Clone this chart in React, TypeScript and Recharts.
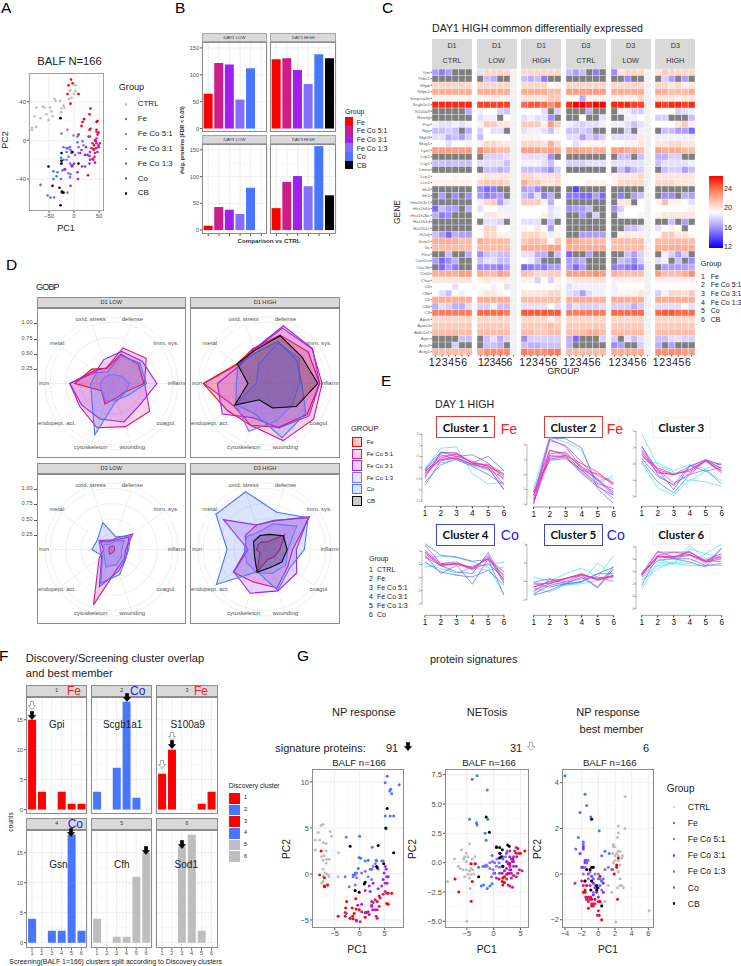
import {
  Bar, BarChart, CartesianGrid, Cell, Line, LineChart, PolarAngleAxis, PolarGrid, PolarRadiusAxis,
  Radar, RadarChart, ReferenceLine, Scatter, ScatterChart, XAxis, YAxis,
} from 'recharts';

const SANS = '"Liberation Sans", Arial, sans-serif';
const C_CTRL = '#bebebe';
const C_FE = '#ff0000';
const C_51 = '#cd1c8b';
const C_31 = '#a020f0';
const C_13 = '#836fff';
const C_CO = '#4876ff';
const C_CB = '#000000';

const groupNames = ['CTRL', 'Fe', 'Fe Co 5:1', 'Fe Co 3:1', 'Fe Co 1:3', 'Co', 'CB'];
const groupColors = [C_CTRL, C_FE, C_51, C_31, C_13, C_CO, C_CB];

// panel A
const aCtrl = [[-84, 10.7], [-84, 13], [-76, 14], [-79, 25], [-75, 34], [-63, 35], [-59, 34], [-55, 27], [-67, 23], [-51, 21], [-48, 34], [-45, 30], [-43, 25], [-39, 43], [-37, 41], [-28, 41], [-25, 33], [-21, 36], [-19, 34], [-26, 29], [-10, 43], [-5, 44], [-9, 51], [-7, 52], [3, 57], [3, 51], [9, 48], [0, 48]];
const aFe = [[-6, 63], [-3, 59], [-11, 57], [-13, 48], [9, 48], [-7, 38], [33, 33], [31, 27], [20, 22], [17, 19], [15, 15], [9, 6], [31, 11], [33, 12], [45, 11], [47, 20], [45, 19], [49, 8], [42, 0], [40, -5], [39, -9], [37, -19], [28, -36]];
const a51 = [[45, 9], [47, 6], [45, 2], [52, -3], [49, -7], [44, -8], [40, -10], [35, -8], [32, -12], [47, -12], [42, -13], [41, -17], [39, -20], [42, -23], [32, 4], [29, 4], [49, -5], [44, -1], [45, -3], [37, -3]];
const a31 = [[-19, -30], [-4, -27], [-3, -26], [16, -27], [7, -33], [8, -40], [-7, -47], [22, -15], [31, -16], [31, -24], [22, -27], [15, -10], [27, -15], [12, -13], [-5, -13], [0, -24], [-18, -30], [32, -20], [-5, -26], [24, -7]];
const a13 = [[-25, 7], [-13, 11], [-1, 5], [9, -7], [19, -5], [-21, -7], [-15, -8], [-8, -7], [-5, -12], [2, -15], [-11, -17], [-15, -20], [-8, -24], [-11, -34], [-7, -35], [-8, -38], [-13, -54], [-25, -54], [9, -13], [17, -1]];
const aCo = [[7, 4], [-67, -46], [-53, -57], [-47, -59], [-40, -59], [-41, -32], [-33, -33], [-41, -40], [-35, -37], [-26, -40], [-23, -31], [-25, -24], [-26, -18], [-15, -12], [-7, -10], [-12, -8], [7, -2], [-21, -20]];
const aCb = [[-27, 23], [-3, -12], [-25, -13], [-25, -21], [-25, -24], [9, -24], [-51, -27], [-43, -47], [-29, -49], [-24, -53], [-21, -54], [-27, -67]];

// panel B
const barGroups = ['Fe', 'Fe Co 5:1', 'Fe Co 3:1', 'Fe Co 1:3', 'Co', 'CB'];
const barColors = [C_FE, C_51, C_31, C_13, C_CO, C_CB];
const d1LowCounts = [65, 122, 119, 54, 112, 0];
const d1HighCounts = [129, 131, 109, 83, 138, 131];
const d3LowCounts = [8, 43, 38, 30, 79, 0];
const d3HighCounts = [41, 90, 101, 82, 157, 65];

// panel C
const n = 0; // NA cell, drawn grey
const genes = ['Vim', 'Thbs1', 'Sftpb', 'Sftpa1', 'Serpina3n', 'Scgb1a1', 'S100a9', 'Retnlg', 'Pzp', 'Ngp', 'Myh9', 'Mug1', 'Lyz2', 'Lsp1', 'Lsg1', 'Lmna', 'Lcp1', 'Lcn2', 'Itih4', 'Itih1', 'Hist2h3c1', 'Hist1h4a', 'Hist1h2bc', 'Hist1h1d', 'Hist1h1c', 'H2afj', 'Gsto1', 'Gc', 'Flna', 'Coro1a', 'Clec3b', 'Chil3', 'Chia', 'C6', 'C8b', 'C5', 'C4b', 'C3', 'Apoh', 'Apoa4', 'Aldh1a1', 'Ager', 'Actc3', 'Actg1'];
const heatD1Ctrl = [
  [16, 15, 16, n, n, n], [n, n, n, n, n, n], [20.5, 20.5, 20.5, 20.5, 20.5, 20.5], [22, 22, 22, 22, 22, 22],
  [19.5, 19.5, 19.5, 19.5, 19.5, 19.5], [25.5, 25.5, 25.5, 25.5, 25.5, 25.5], [n, n, n, n, n, 16.5], [n, n, n, n, n, n],
  [18.5, 18, 18, 18.5, 18, 18.5], [17, 17, 17.5, 17, n, 16.5], [18, 18, 16.5, 17, 16, 17.5], [19, 19, 18, 19, 19, 19.5],
  [22.5, 22.5, 22.5, 22.5, 22.5, 22.5], [n, n, n, n, n, n], [17, 17, 16.8, 17, 17, 17], [n, n, n, n, n, n],
  [19.2, 19.2, 19.2, 19.4, 19.2, 19.2], [19.5, 19.5, 19.5, 19.5, 19.5, 19.5], [n, n, n, n, n, n], [n, 16, n, 15.5, n, 15.5],
  [n, n, n, n, n, n], [14.5, 17, 16, 16, n, 16.5], [16.5, 15, 15.5, n, n, n], [n, n, n, n, n, n],
  [n, n, n, n, n, n], [17, 16, 14.5, 16.5, 16, 16], [22, 22, 22, 22, 21.5, 21.5], [21.5, 21.5, 21.5, 21.5, 21.5, 21.5],
  [n, n, 17, n, n, 16.5], [16, 14.5, 15.5, 16.5, n, n], [n, 14.5, 16, 15, n, n], [22, 22, 22, 22, 22.5, 22.5],
  [20, 20, 20, 20, 20, 20], [19, 19, 19, 18, 19, 19], [19, 18, 17, 19, 18.5, 19], [22, 22, 22, 22, 22, 22],
  [16.5, 18, 17.5, 16.5, 16.5, 18], [23.5, 23.5, 23.5, 23.5, 23.5, 23.5], [20.5, 20.5, 20.5, 20.5, 20.5, 20.5], [21, 21, 21, 21, 21, 21],
  [21.5, 21.5, 21.5, 21.5, 21.5, 21.5], [n, n, n, n, 17, 17], [n, n, n, 17.5, n, n], [21.5, 21.5, 21.5, 21.5, 21.5, 21.5],
];
const heatD1Low = [
  [18, 20.5, 20.5, 20.5, 20.5, null], [n, 17, 16.5, n, n, null], [20.5, 20.5, 20.5, 20.5, 20.5, null], [22, 22, 22, 22, 22, null],
  [19.5, 19.5, 20, 19.5, 19.5, null], [25, 25, 25, 25, 25, null], [18.5, 19, 19, 17.5, 17, null], [18, 18.5, 18.5, n, 19, null],
  [19.5, 21, 21, 20, 20, null], [17.5, 19, 18, 18, n, null], [17, 19, 19, 19, 19, null], [19.5, 20.5, 20.5, 20, 20, null],
  [23, 22, 22, 21.5, 21.5, null], [n, 17.5, 17.5, 17.5, 18, null], [18, 18, 18, 18, 17, null], [n, 17, 17, 16.5, 17, null],
  [19.5, 20, 20, 20, 20, null], [20.5, 21, 21, 21, 20.5, null], [15.5, 14.5, 15, n, n, null], [16, 15, 15.5, 16, n, null],
  [18.5, 20.5, 21, 16, 18, null], [18, 19, 19, 18.5, 18.5, null], [19, 20, 20, 19.5, 19.5, null], [n, 18, 18, 17.5, n, null],
  [19, 20.5, 20.5, 19, 19, null], [19, 20.5, 20.5, 19.5, 19.5, null], [22, 21.5, 21.5, 21.5, 21.5, null], [21.5, 21.5, 21.5, 21.5, 21.5, null],
  [15.5, 17, 17.5, 17, 17, null], [17, 18, 18, 17, 17, null], [15.5, 15.5, 15.5, 15, 16, null], [22, 21.5, 21.5, 22.5, 22, null],
  [19.5, 20, 19.5, 19.5, 19.5, null], [19, 19, 18.5, 19, 18, null], [19.5, 20, 20, 19.5, 19, null], [22, 22, 22, 22, 22, null],
  [17.5, 17.5, 18.5, 17, 17, null], [24, 24, 24, 24, 23.5, null], [20.5, 20.5, 20.5, 20.5, 20.5, null], [21, 21, 21, 21, 21, null],
  [21.5, 21.5, 21.5, 21.5, 21.5, null], [n, 17, 18, 16.5, 17.5, null], [n, 17, 17, 16.5, n, null], [22, 23, 23, 23, 23, null],
];
const heatD1High = [
  [20.5, 20.5, 20.5, 20.5, 20.5, 20.5], [17, 16.5, 17, 15, n, n], [20.5, 20.5, 20.5, 20.5, 19, 19.5], [22, 22, 22, 22, 21.5, 21.5],
  [20, 20, 20, 20, 21, 21], [24, 24.5, 24.5, 24, 23, 24], [19, 19, 19, 18, n, 17.5], [18, 18.5, 18, 18, 15.5, n],
  [21, 21, 21, 19.5, 22.5, 21], [18, 18.5, 18.5, 18, 17, 19.5], [19.5, 19.5, 19.5, 19, 19, 19], [20.5, 20.5, 20.5, 20, 22, 20.5],
  [22.5, 22.5, 22.5, 22, 22.5, 22], [18, 18, 18, 18, 15.5, n], [18.5, 18.5, 18.5, 18, 17, 19], [17, 17, 17, 16.5, 15.5, 17.5],
  [20.5, 20.5, 20, 20, 20, 20.5], [22, 21, 21, 20, 20, 20.5], [16, 16.5, 15.5, n, n, n], [17, 16, 18, 15, 16.5, n],
  [21, 21, 21, 19.5, 16.5, 19], [19, 19, 19, 19, 18, 18.5], [19, 19, 19, 19.5, 18, 18.5], [18, 18, 18, n, 17, n],
  [19.5, 19, 20, 19, 16, 19], [20.5, 20.5, 20.5, 20, 18.5, 19.5], [21, 21.5, 21.5, 21, 19, 21], [22, 22, 22, 22, 22.5, 22.5],
  [18, 18, 16.5, 16.5, n, 17], [19, 18.5, 17, n, n, n], [14.5, 15, 15.5, 15, 16, 16], [21.5, 21, 20.5, 20.5, 21, 21],
  [19.5, 19.5, 17.5, 19, 17.5, 19.5], [19, 19, 19, 19, 19, 19.5], [20, 20, 20, 20, 20.5, 20.5], [21.5, 21.5, 21.5, 21.5, 21.5, 21.5],
  [18, 18, 18, 18, 19, 18], [24.5, 24.5, 24.5, 24.5, 24.5, 24.5], [20.5, 20.5, 20.5, 20.5, 19.5, 20.5], [21, 21, 21, 21, 21.5, 21],
  [21.5, 21.5, 21, 21, 21.5, 21.5], [15.5, 17.5, 17.5, 17.5, 17.5, 17.5], [17, 16.5, 16.5, 17, 17, 17], [23.5, 23, 23, 23, 23.5, 23.5],
];
const heatD3Ctrl = [
  [17, 16, 17, n, 15, n], [n, n, n, n, n, n], [20.5, 20.5, 20.5, 20.5, 20.5, 20.5], [22.5, 22.5, 22.5, 22.5, 22.5, 22.5],
  [19, 19, 16.5, 19.5, 19.5, 19.5], [25.5, 26, 26, 25.5, 26, 26], [n, n, n, 16.5, n, n], [n, n, 19, n, n, 18],
  [18.5, 18, 17.5, 18, 18, 18.5], [17, 17, 17.5, 17, n, n], [18, 18, 16, 17.5, 16.5, 17.5], [19, 18, 19.5, 19.5, 19.5, 19.5],
  [22.5, 22.5, 22, 22, 22, 22], [n, n, n, n, n, n], [17.5, 17.5, 17.5, 18, 18, 18], [n, n, n, n, n, n],
  [19, 19, 19, 19, 19, 19], [19, 19, 19, 19.5, 19.5, 19.5], [n, 13.5, n, n, n, n], [15, 15, 14.5, 14.5, 16, 14.5],
  [n, n, n, n, n, n], [15.5, 16, 16, 17, n, n], [n, n, 16, n, 17.5, n], [n, n, n, n, n, n],
  [n, n, n, n, n, n], [n, n, 16, 16, 16, 16], [22.5, 22, 21.5, 21.5, 21.5, 21.5], [22, 22, 22, 22, 22, 22],
  [14.5, n, n, 16, n, n], [16, 16, 16.5, n, n, n], [16, 14.5, 16, n, n, n], [22.5, 22.5, 22.5, 22.5, 23, 22.5],
  [19.5, 20, 20, 20, 20, 20], [18, 18.5, 18.5, 18.5, 18.5, 18.5], [18, 17.5, 16, 18, 18.5, 18.5], [22, 22, 22, 22, 22, 22],
  [17, 18, 17.5, 17.5, 17.5, 18], [23.5, 23.5, 23.5, 23.5, 23.5, 23.5], [20.5, 20.5, 20.5, 20.5, 20.5, 20.5], [21, 21, 21, 21, 21, 21],
  [21.5, 21.5, 21.5, 22, 22, 21.5], [16.5, 14.5, n, n, n, 17.5], [16.5, n, n, n, n, n], [21.5, 21.5, 21.5, 21.5, 21.5, 21.5],
];
const heatD3Low = [
  [15.5, 20, 20.5, 20.5, 20.5, null], [n, n, 15.5, n, n, null], [20.5, 20.5, 20.5, 20.5, 20.5, null], [22, 22, 22, 22, 22, null],
  [19.5, 19.5, 19.5, 19.5, 20.5, null], [25.5, 25.5, 25.5, 25, 25, null], [n, 18.5, 18.5, 17.5, 17.5, null], [n, n, 18.5, 18.5, 19, null],
  [18.5, 18.5, 18, 17, 18, null], [n, n, 17.5, n, 18.5, null], [18, 18, 18, 18, 20, null], [19, 19, 19.5, 19.5, 20, null],
  [22.5, 22.5, 22, 22, 21.5, null], [n, 17, 17, n, 17, null], [18, 18, 18, 18, 18, null], [n, 17, 15.5, 17, 17.5, null],
  [19.5, 20, 20, 20, 20.5, null], [19.5, 20.5, 20.5, 20.5, 20.5, null], [n, n, n, n, n, null], [n, 15, n, 16, 17, null],
  [n, 20, 20, n, 19, null], [15.5, 17.5, 19, 19, 19, null], [n, 18.5, 19, 19, 19.5, null], [n, n, n, n, n, null],
  [n, n, 17, 17, 18, null], [n, 19.5, 20, 19.5, 19.5, null], [21.5, 21.5, 21.5, 21.5, 21.5, null], [21.5, 21.5, 21.5, 21.5, 21.5, null],
  [n, n, 17, 16, 17.5, null], [n, 17, 16.5, 15.5, 17.5, null], [15, 15.5, 15, 14.5, 15.5, null], [22, 21.5, 21.5, 21.5, 21.5, null],
  [19.5, 19.5, 19.5, 19.5, 19.5, null], [18.5, 19, 19, 19, 19, null], [18.5, 19.5, 19.5, 19.5, 20, null], [22, 22, 22, 22, 22, null],
  [17.5, 17.5, 17.5, 16.5, 17.5, null], [24, 24, 24, 24, 24, null], [20.5, 20.5, 20.5, 20.5, 20.5, null], [21, 21, 21, 21, 21, null],
  [21.5, 21.5, 21.5, 21.5, 21.5, null], [17.5, n, 18, 17, 18, null], [15.5, 16, n, n, 17.5, null], [22, 22, 22, 22, 22, null],
];
const heatD3High = [
  [20, 21, 20.5, 20.5, 20.5, 20.5], [n, 17.5, 16, n, 16, n], [20.5, 20.5, 20, 20.5, 19.5, 20], [22, 22, 21.5, 21.5, 21.5, 22],
  [20, 20, 20, 19.5, 20, 20], [25.5, 25, 25.5, 25.5, 25, 25.5], [19, 19, 19, 17.5, 18, 18.5], [17.5, 17.5, n, n, n, 17],
  [19, 19, 19, 20, 21, 19.5], [n, 17, 17, 16, 16, 14.5], [18.5, 18.5, 18.5, 18.5, 18.5, 18.5], [20, 20, 20.5, 20.5, 20, 20],
  [22.5, 22, 22, 22, 21.5, 21.5], [16.5, 16.5, 17.5, 17.5, n, n], [17, 18, 18, 18, 18, 18.5], [n, 17, 17.5, 17.5, 16, 17],
  [20, 20, 20, 20, 20, 20], [20.5, 20.5, 20.5, 20, 20, 20], [n, n, n, n, n, n], [n, 15.5, 15.5, n, 16.5, 16],
  [19.5, 21.5, 19.5, 19.5, 19, 18], [19, 19, 19, 19, 19, 19.5], [19.5, 20, 20, 20, 20, 20], [n, n, 17, n, 16, n],
  [18, 19, 19.5, 19, n, 19], [19, 21, 21, 20, 20, 19], [21.5, 21.5, 21.5, 21.5, 21.5, 21.5], [22, 22, 22, 22, 22, 22],
  [n, 18.5, 17.5, 16, 17.5, n], [18, 18.5, n, 17, n, 15.5], [n, 16, 16, 16, 16, 16.5], [22.5, 21.5, 21.5, 21.5, 22, 23],
  [19.5, 19.5, 19.5, 19.5, 19.5, 19.5], [19, 19, 19, 19, 19, 19], [17.5, 19.5, 20.5, 20.5, 20, 21], [22, 22, 22, 22, 22, 22],
  [18, 18, 18, 18, 19, 18], [24, 24.5, 24.5, 24, 24, 24], [20.5, 20.5, 20.5, 20.5, 20.5, 20.5], [21, 21, 21, 21, 21, 21],
  [21.5, 21.5, 21.5, 21.5, 21.5, 21.5], [17, 17, 18, 18, 17.5, 17.5], [16.5, n, 16, n, n, n], [23, 23, 23, 23, 22.5, 22.5],
];

// panel D
const terms = ['defense', 'imm. sys.', 'inflamm.', 'coagul.', 'wounding', 'cytoskeleton', 'endopept. act.', 'iron', 'metal', 'oxid. stress'];
const d1LowFe = [0.5, 0.54, 0.53, 0.25, 0.25, 0.35, 0.2, 0.6, 0.4, 0.26];
const d1Low51 = [0.61, 0.7, 0.54, 0.77, 0.74, 0.76, 0.64, 0.68, 0.35, 0.27];
const d1Low31 = [0.55, 0.62, 0.74, 0.58, 0.66, 0.61, 0.6, 0.68, 0.32, 0.41];
const d1Low13 = [0.15, 0.2, 0.3, 0.27, 0.3, 0.3, 0.2, 0.19, 0.15, 0.15];
const d1LowCo = [0.48, 0.57, 0.57, 0.33, 0.28, 0.88, 0.4, 0.34, 0.3, 0.2];
const d1HighFe = [0.83, 0.88, 0.9, 0.86, 0.75, 0.72, 0.75, 1, 0.55, 0.6];
const d1High51 = [0.95, 0.96, 0.94, 0.99, 0.98, 0.72, 0.62, 0.99, 0.53, 0.57];
const d1High31 = [0.99, 0.97, 0.9, 0.9, 0.76, 0.59, 0.85, 0.77, 0.5, 0.58];
const d1High13 = [0.7, 0.7, 0.57, 0.57, 0.64, 0.82, 0.58, 0.14, 0.15, 0.32];
const d1HighCo = [0.72, 0.65, 0.61, 0.83, 0.93, 0.52, 0.58, 0.46, 0.53, 0.52];
const d1HighCb = [0.82, 0.75, 0.87, 0.64, 0.42, 0.28, 0.6, 0.27, 0.55, 0.56];
const d3LowFe = [0.06, 0.06, 0.05, 0.05, 0.05, 0.08, 0.05, 0.04, 0.05, 0.05];
const d3Low51 = [0.19, 0.43, 0.23, 0.26, 0.32, 0.95, 0.25, 0.13, 0.22, 0.13];
const d3Low31 = [0.16, 0.35, 0.26, 0.28, 0.37, 0.64, 0.2, 0.18, 0.25, 0.16];
const d3Low13 = [0.14, 0.25, 0.17, 0.2, 0.26, 0.3, 0.15, 0.13, 0.15, 0.09];
const d3LowCo = [0.22, 0.38, 0.28, 0.28, 0.43, 0.58, 0.18, 0.32, 0.28, 0.46];
const d3HighFe = [0.13, 0.41, 0.25, 0.2, 0.17, 0.38, 0.09, 0.13, 0.13, 0.13];
const d3High51 = [0.49, 0.91, 0.46, 0.47, 0.66, 0.56, 0.63, 0.3, 0.39, 0.42];
const d3High31 = [0.5, 0.88, 0.52, 0.65, 0.71, 0.75, 0.62, 0.27, 0.83, 0.42];
const d3High13 = [0.44, 0.65, 0.38, 0.43, 0.41, 0.4, 0.36, 0.33, 0.36, 0.3];
const d3HighCo = [0.64, 0.88, 0.65, 0.51, 0.7, 0.38, 0.97, 0.61, 0.98, 0.99];
const d3HighCb = [0.26, 0.38, 0.37, 0.35, 0.31, 0.39, 0.2, 0.17, 0.22, 0.24];

// panel E
const clusterX = [1, 2, 3, 4, 5, 6];
const cluster1Lines = [
  [-0.09, 0.88, 0.93, -0.27, -0.73, -0.64], [-0.04, 0.7, 0.66, 0.21, 0.51, -0.13], [-0.79, 0.31, 0.46, 0.13, 0, -0.99],
  [-0.46, 0.66, 0.66, 0.21, 0.1, -0.76], [-0.31, 0.43, 0.61, 0.21, 0.1, -0.39], [-0.24, 0.36, 0.51, 0.28, 0.06, -0.31],
  [-0.64, 0.13, 0.4, 0.13, 0, -0.96], [-0.13, 0.21, 0.36, 0.06, -0.09, -0.13], [-0.39, 0.7, 0.51, 0.58, 0.21, -0.54],
  [-0.19, 0.51, 0.61, 0.21, -0.09, -0.46], [-0.13, 0.36, 0.43, 0.16, 0.16, -0.28], [-0.09, 0.58, 0.36, 0.06, -0.31, -0.76],
];
const cluster2Lines = [
  [-1.39, 2.47, 2.43, 1.8, -0.94, -1.96], [-0.94, 2.54, 2.2, 1.64, -0.61, -0.04], [-1.96, 2.31, 1.98, 0.85, -0.38, -1.39],
  [-1.62, 2.43, 1.87, 0.52, -0.38, -1.17], [-1.17, 1.64, 1.42, 0.52, -0.04, -0.61], [-1.39, 1.19, 1.3, 0.29, -0.61, -0.94],
  [-1.17, 0.97, 1.08, 0.29, 0.07, -0.54], [-1.84, 1.08, 1.19, 0.18, -0.72, -1.62], [-1.39, 1.3, 1.19, 0.07, -0.83, -1.39],
  [-1.96, 1.64, 1.3, 0.74, 0.18, -0.72], [-0.83, 0.97, 1.3, 0.29, -0.38, -0.27], [-1.73, 1.42, 1.53, 0.4, -0.27, -1.28],
];
const cluster3Lines = [
  [1.84, -0.08, -0.49, -1.1, -0.41, -1.02], [0.06, -1.47, -1.92, -0.96, -1.1, -1.37], [0.16, -1.1, -1.78, -0.65, -0.35, -1.22],
  [1.08, -0.35, -1.57, -0.14, 0.27, -0.08], [1.08, -0.65, -1.31, -0.55, 0.27, -0.29], [0.88, -0.35, -0.65, -0.14, 0.2, -0.04],
  [0.67, -0.35, -1.16, -0.65, 0.2, -0.45], [0.78, -0.55, -0.65, -0.35, 0.2, -0.29], [0.57, -0.49, -0.65, -0.35, 0.2, -0.55],
  [0.47, -0.24, -0.61, -0.45, 0.16, -0.41], [0.16, 0.06, -0.41, -0.04, -0.29, 0.06], [0.33, -0.76, -1.27, -0.08, -0.45, -0.2],
];
const cluster4Lines = [
  [0.81, 0.94, 0.18, 0.94, 0.94, 1.2], [2.6, 1.7, 1.58, 1.25, 1.4, -1.35], [1.7, 0.31, 0.94, -0.51, 1.45, -0.2],
  [1.96, 0.94, 0.43, 0.31, 1.91, -0.33], [2.47, 1.07, 1.2, 0.56, 1.7, -0.46], [2.09, 1.07, 0.99, 0.69, 1.58, 0.05],
  [1.83, 0.89, 1.07, 0.81, 1.4, 0.18], [1.96, 0.99, 1.07, 0.74, 1.45, 0.43], [1.58, 0.94, 1.07, 0.69, 1.07, -0.08],
  [1.07, 0.69, 0.38, 0.74, 0.56, 0.81], [1.2, 0.43, 0.18, 0.05, 0.56, -0.59], [1.45, 1.65, 1.53, 1.2, 0.81, -1.3],
];
const cluster5Lines = [
  [0.24, 0, 0.42, 0.73, 0.24, 1.42], [-0.76, -0.49, -0.13, 0.24, -0.36, 0.69], [-0.58, 0.11, 0, 0.33, -0.31, 0.84],
  [-0.31, -0.04, 0.15, 0.42, 0.05, 0.33], [-0.49, -0.13, 0.15, 0.33, 0.11, 0.24], [-0.09, -0.13, 0.15, 0.42, 0.11, 0.29],
  [-0.31, 0, 0.18, 0.36, 0.15, 0.33], [-0.76, -0.04, -0.22, -0.04, 1.02, 0.24], [-0.13, -0.31, -0.13, 0, 0.42, 0.78],
  [-0.67, -0.22, -0.04, 0.15, 0.24, 0], [-0.04, 0.15, -0.13, -0.04, 0.42, 0.42], [-0.36, -0.58, -0.18, -0.13, 0.05, 0.6],
];
const cluster6Lines = [
  [-2.43, -0.22, -0.35, 0.86, 0.46, 1.27], [-1.57, -0.49, -0.35, -0.49, -0.49, -0.49], [-2.11, 0.27, 0.05, -0.22, -0.62, 0.92],
  [-1.16, 0.65, 0.19, 0.65, -0.35, 0.92], [-1.3, 0.59, 0.59, 0.38, -0.08, 0.27], [-1.16, 0.27, 0.19, 0.59, -0.08, 0.46],
  [-1.24, 0.24, 0.24, 0.38, -0.16, 0.19], [-1.3, 0.19, 0.14, 0.32, -0.22, 0.05], [-1.3, 0.32, 0.59, 0.59, -0.14, -0.16],
  [-1.7, -0.76, -0.22, -0.35, 0.46, 0.05], [-1.43, -0.08, 0.05, 0.05, -0.49, -0.35], [-1.03, 0.05, -0.35, 1.14, 0.05, 0.46],
];

// panel F
const screeningClusters = ['1', '2', '3', '4', '5', '6'];
const overlap1 = [15, 3, 0, 3, 1, 1];
const overlap2 = [3, 0, 7, 18, 2, 0];
const overlap3 = [6, 10, 0, 0, 1, 3];
const overlap4 = [4, 0, 2, 2, 18, 2];
const overlap5 = [4, 0, 1, 1, 11, 15];
const overlap6 = [0, 0, 16, 18, 2, 0];
const discoveryColors = [C_FE, C_CO, C_FE, C_CO, C_CTRL, C_CTRL];

// panel G
const g1Ctrl = [[-7.3, 5.4], [-7.7, 5.3], [-8.3, 4.5], [-8.9, 3.7], [-8, 3.7], [-7.3, 3.4], [-6.7, 3.3], [-8.9, 2.6], [-5.9, 4.6], [-5.6, 4.1], [-4.2, 2.3], [-6.7, 2.5], [-7.6, 1.9], [-7.1, 2], [-6.6, 1.6], [-6.1, 1.6], [-7.3, 1.5], [-6.7, 1.2], [-7.3, 0.5], [-6.6, 0], [-6.3, -0.1], [-7.3, -0.2], [-6.9, -0.4], [-6.1, -0.3], [-4.3, -0.3], [-7.6, -1], [-6.6, -1.2], [-7.3, -0.8], [-6.9, 0.1]];
const g1Fe = [[-7.7, 2.5], [-8, -0.1], [-7.1, -0.4], [-7.1, -1.3], [-7, -1.4], [-6.4, -1.2], [-4.3, -4.6], [-2.6, -3], [-2.8, -3.7], [-1.5, -3.7], [-0.7, -3.8], [-0.1, -3.9], [-0.8, -2.7], [-2.9, -4.6], [-1.9, -4.8], [-1.4, -4.6], [-1.1, -4.3], [-1.3, -4.9], [1.1, -4.2], [1.1, -4.7], [3.9, -2.4], [3.5, -3], [5.7, -2.1], [6.4, -2.1], [5.4, -3.2], [5.7, -3.3]];
const g151 = [[-2.9, -4.2], [-2.7, -4.3], [-1.9, -4.8], [0.1, -5.2], [0.4, -4.1], [1.5, -4.2], [1.9, -4.4], [2.4, -3.5], [2.7, -3.1], [3.1, -3.9], [3.5, -3.9], [3.9, -3.5], [3.3, -4.6], [3.5, -4.8], [2.4, -3], [3.1, -2.8], [4.1, -2.6], [5.1, -1.9], [5.4, -2.1], [4.7, -2.2]];
const g131 = [[5.1, 0.8], [5.3, 0.5], [4.9, 0.1], [5.4, -0.3], [5.7, -0.3], [4.7, -0.6], [5.1, -1], [5.5, -1], [4.4, -1.3], [3.7, -1.6], [2.7, -1], [1.9, -1.3], [1.1, -1.8], [2.1, -1.9], [0.4, -3.3], [-0.4, -3.4], [-0.6, -5.1], [-0.7, -5], [2.4, -3.4], [2.6, -3.9], [1.7, -4.1], [1.3, -4.2]];
const g113 = [[-2.7, 4], [-2.9, -0.3], [-1.3, -0.3], [-0.9, -0.1], [-0.6, 0.1], [-0.6, -0.4], [-0.9, -1.2], [-2.1, -1.4], [0.4, 0.1], [2.1, 0.5], [2.7, 0.8], [3.1, 1.1], [3.4, 1.4], [4.4, 1.4], [1.1, 0.3], [1.7, -0.3], [2.4, -0.6], [3.7, 0.5]];
const g1Co = [[5.5, 10.6], [5.1, 9.9], [7.9, 9.7], [6.2, 9.2], [6, 9], [6.4, 8.7], [5.1, 6.3], [6.8, 6.3], [6.1, 6.3], [5.3, 4.9], [0, 4.1], [2.5, 2.9], [-0.1, 1.8], [0.2, 1.7], [1.1, 1.4], [1.7, 1.5], [4.7, 1.4], [3.3, 1.5], [-0.3, 0.6], [2.4, 0.5], [-0.9, 0.1], [-1.3, -0.1]];
const g1Cb = [[5.5, 7.1], [5.2, 5], [-1.9, 3], [3.7, 3.1], [6.8, 2.3], [4.8, 1.1], [3.4, 0.8], [3.5, 0.7], [1.1, -0.9], [0.9, -1.1], [-0.9, -1.8], [-0.1, -2]];

const g2Ctrl = [[-5, -5], [-8.6, -1.6], [-7.3, 0.3], [-6, 1.1], [-5.1, 0.8], [-4.5, 1.6], [-5.4, 0.5], [-4.8, 0.5], [-3.5, 0.5], [-5.6, 0.3], [-5.1, 0.1], [-4.3, -0.1], [-6.6, -0.3], [-6.2, -0.5], [-5.7, -0.6], [-5.1, -0.6], [-4.5, -0.7], [-3.9, -0.6], [-4.8, -1], [-4.2, -1], [-3.7, -1], [-5.4, -1.2], [-4.5, -1.3], [-4.4, -2.2], [-4, 0.3], [-3.6, -0.1], [-4.2, -0.5]];
const g2Fe = [[-4.2, -0.1], [-3.4, -0.1], [-7.2, -1.4], [-4, -1.6], [-6.5, -2.5], [-4.2, -3.3], [1, -1.4], [1.7, -1.3], [1.6, -1.6], [2, -1.2], [2.4, -1], [2, -1.7], [1.7, -1.9], [2.7, -0.9], [3.2, -0.6], [3, -0.1], [3.6, 0.3], [4.5, 1.2], [5, 0.8], [5.8, 1], [4.2, 0.8], [2.7, -0.1]];
const g251 = [[3, 1], [4.2, 1.3], [3.9, 1], [4.7, 0.8], [4.3, 0.5], [3.7, 0.1], [4.2, -0.3], [4.8, -0.6], [5.3, -0.7], [4.5, -0.9], [3.7, -1.1], [3.3, -1.3], [2.4, -1.4], [3, -2], [2.7, -1.9], [3.5, -2.1], [4.2, -1.2], [3, -0.9]];
const g231 = [[1.1, 0.8], [2.4, 0.8], [3, 0.5], [3.3, 0.3], [2.7, 0], [3.5, 0.1], [1.7, -0.3], [2.4, -0.5], [3, -0.3], [3.7, -0.3], [3, -0.6], [2, -0.7], [1.6, -0.9], [0.2, -0.9], [0.5, -1.3], [1.1, -0.9], [3.3, -0.9], [2.4, 0.1], [3.7, 0.5]];
const g213 = [[2.5, 1], [2.2, 0.5], [1.7, 0.5], [0.6, 0.3], [0.2, 0], [-0.2, 0.1], [-0.7, 0], [-1.2, -0.3], [-1.7, -0.3], [-0.7, -0.5], [-0.1, -0.6], [-0.4, -1.2], [0.5, -0.3], [1.1, -0.4], [1, 0], [-1.4, -0.2], [-2, -0.3], [0, -0.9]];
const g2Co = [[-4, 7.1], [-3.1, 7.4], [-1.2, 6.2], [-4.5, 3.7], [-3.2, 3.4], [-3.1, 3.2], [-1.1, 3.7], [-1.6, 2.5], [-1.4, 1.9], [-0.3, 0.6], [-2.8, -0.4], [-2.3, -2], [-1.9, -1.9], [-1.2, -2.2], [-0.7, -2], [-0.3, -1.8], [-1.7, -0.3], [0.5, 1.4], [1.7, 0.3]];
const g2Cb = [[-1.4, 3.9], [-0.8, 2.6], [0.5, 1.3], [1.1, 1.3], [1.6, 1.1], [1.2, 0.8], [1.4, 0.5], [1.1, 0.4], [1.7, -0.3], [2.6, 1.5], [2.9, 1.4], [-2.8, -1.2]];

const g3Ctrl = [[3.2, 3.4], [2.4, 2.1], [3.2, 2], [2.4, 1.8], [2.3, 1.6], [1.8, 1.3], [1.8, 1.2], [2, 1.2], [1.7, 0.9], [2.4, 1], [2.6, 1], [2.9, 0.8], [2.8, 0.7], [2.2, 0.9], [2, 0.6], [2.4, 0.6], [1.8, 0.5], [2.6, 0.4], [2.4, 0.1], [2.6, -0.2], [2.8, -0.5], [3, -0.6], [2.6, -0.5], [2.3, -0.6], [1.2, -0.5], [1.6, -0.8], [6.1, -1.6], [2.1, -2.1], [0.8, -1.2], [0.4, -1.3], [2.4, 0.8], [2, 0.8]];
const g3Fe = [[2.4, 0.7], [2.2, 0.4], [1.7, 0.2], [2.2, 0.3], [1.9, 0], [0.2, -0.1], [2.3, -1.1], [-1.8, -0.8], [-1.6, -0.7], [-1.6, -0.8], [-1.2, -1], [-1, -1.1], [-0.8, -1.1], [-0.4, -1.1], [0, -1.2], [0.2, -1.2], [-0.8, -1.4], [-1.2, -1.5], [0.4, -2], [0.1, -1.8], [-1.4, -0.5]];
const g351 = [[-2.8, -0.4], [-2, -0.3], [-1.6, -0.3], [-1.5, -1], [-1.4, -1.1], [-1.2, -1.2], [-0.8, -1.3], [-0.6, -1.4], [0, -1.6], [-0.1, -1.8], [-0.6, -1.3], [-1.8, -0.5], [-1.4, -1.1], [-0.9, -1], [-0.4, -1.3]];
const g331 = [[-2.2, 0.9], [-1.8, 1.2], [-1.8, 1.1], [-1.6, 0.6], [-1.8, 0.3], [-1.6, 0.5], [-1.4, 0.6], [-2, 0.3], [-1.2, 0], [-0.8, -0.1], [-0.6, -0.4], [-0.4, -0.6], [-0.2, -0.8], [0, -1], [0.6, -0.8], [0.4, -0.3], [0.6, -0.4], [-1, -0.5], [-0.6, -0.9]];
const g313 = [[-1.2, 0.6], [-1.4, 0.5], [-1.6, 0.3], [-1, 0.1], [-0.4, 0], [0, 0], [0.2, -0.2], [0.6, -0.2], [0.8, 0.2], [1.2, 0.3], [1.6, 0.2], [-0.8, -0.3], [-0.4, -0.5], [0, -0.6], [0.4, -0.7], [-0.6, -0.8], [-1.2, -0.2], [-1.8, 0]];
const g3Co = [[-4, 4.3], [-1.6, 3.5], [-1.4, 3], [-2.2, 2.7], [-0.9, 2.5], [0.1, 1.9], [-2.4, 1.6], [-2.7, 1.1], [-1.8, 1.4], [-1.8, 1.3], [0.8, 1], [0.4, 0.8], [1.3, 0.9], [-1.4, 0.5], [0, -0.2], [0.2, -0.5], [-0.2, -0.5], [-0.6, -0.2], [0.4, -0.3]];
const g3Cb = [[-0.8, 2.4], [-1.4, 0.2], [-1, 0.2], [-0.8, 0.3], [-0.6, 0.3], [-0.8, -0.3], [-1.6, -0.3], [-0.9, -0.7], [-0.2, -0.5], [-0.1, -0.6], [-0.2, -0.7], [0.4, -1.4]];

function Txt({ x, y, size, children, anchor = 'start', color = '#000', weight = 400, rotate = 0, spacing = 0 }: any) {
  const tx = anchor === 'middle' ? -50 : anchor === 'end' ? -100 : 0;
  return (
    <div style={{ position: 'absolute', left: x, top: y, fontSize: size, color, fontWeight: weight, whiteSpace: 'nowrap', lineHeight: 1, letterSpacing: spacing, transform: `translate(${tx}%, -50%) rotate(${rotate}deg)` }}>
      {children}
    </div>
  );
}

function Frame({ x0, y0, x1, y1, color = '#8c8c8c', fill = 'none', width = 1 }: any) {
  return <div style={{ position: 'absolute', left: x0, top: y0, width: x1 - x0, height: y1 - y0, boxSizing: 'border-box', border: `${width}px solid ${color}`, background: fill }} />;
}

function Strip({ x0, y0, x1, y1, label, size = 5, border = '#8c8c8c' }: any) {
  return (
    <>
      <Frame x0={x0} y0={y0} x1={x1} y1={y1} color={border} fill="#d9d9d9" />
      <Txt x={(x0 + x1) / 2} y={(y0 + y1) / 2} size={size} anchor="middle" color="#333">{label}</Txt>
    </>
  );
}

function Arrow({ x, y, filled = true }: any) {
  return (
    <svg width={8} height={9} style={{ position: 'absolute', left: x - 4, top: y - 4.5 }}>
      <polygon points="2.4,0.5 5.6,0.5 5.6,4.5 7.6,4.5 4,8.5 0.4,4.5 2.4,4.5" fill={filled ? '#000' : '#fff'} stroke={filled ? '#000' : '#777'} strokeWidth={0.6} />
    </svg>
  );
}

const minus = (v: number) => String(v).replace('-', '\u2212');
const mids = (t: number[]) => t.slice(1).map((v, i) => (v + t[i]) / 2);

function Pca({ box, xDomain, yDomain, xTicks, yTicks, groups, tickSize = 6, yFormat = minus, r = 1.5, frame = '#8c8c8c' }: any) {
  const [x0, y0, x1, y1] = box;
  const yw = 24;
  const xh = 14;
  return (
    <div style={{ position: 'absolute', left: x0 - yw, top: y0 }}>
      <ScatterChart width={x1 - x0 + yw} height={y1 - y0 + xh} margin={{ top: 0, right: 0, bottom: 0, left: 0 }}>
        <CartesianGrid horizontalValues={mids(yTicks)} verticalValues={mids(xTicks)} stroke="#f3f3f3" strokeWidth={0.5} />
        <CartesianGrid horizontalValues={yTicks} verticalValues={xTicks} stroke="#e8e8e8" strokeWidth={0.8} />
        <XAxis type="number" dataKey="x" domain={xDomain} ticks={xTicks} interval={0} allowDataOverflow height={xh} tickFormatter={minus} tickSize={2} tickMargin={1} axisLine={false} stroke="#555" tick={{ fontSize: tickSize, fill: '#4d4d4d' }} />
        <YAxis type="number" dataKey="y" domain={yDomain} ticks={yTicks} interval={0} allowDataOverflow width={yw} tickFormatter={yFormat} tickSize={2} tickMargin={1} axisLine={false} stroke="#555" tick={{ fontSize: tickSize, fill: '#4d4d4d' }} />
        {groups.map((pts: number[][], i: number) => (
          <Scatter key={i} data={pts.map(([x, y]) => ({ x, y }))} isAnimationActive={false} shape={(p: any) => <circle cx={p.cx} cy={p.cy} r={r} fill={groupColors[i]} />} />
        ))}
      </ScatterChart>
      <Frame x0={yw} y0={0} x1={x1 - x0 + yw} y1={y1 - y0} color={frame} />
    </div>
  );
}

function BarFacet({ box, values, colors, cats, yDomain, yTicks, showY, xMode, gap, pad, fontSize }: any) {
  const [x0, y0, x1, y1] = box;
  const yw = showY ? 18 : 0;
  const xh = xMode === 'labels' ? 11 : xMode === 'ticks' ? 3 : 0;
  const data = cats.map((cat: string, i: number) => ({ cat, value: values[i] }));
  return (
    <div style={{ position: 'absolute', left: x0 - yw, top: y0 }}>
      <BarChart width={x1 - x0 + yw} height={y1 - y0 + xh} data={data} margin={{ top: 0, right: 0, bottom: 0, left: 0 }} barCategoryGap={gap}>
        <CartesianGrid horizontalValues={mids(yTicks)} vertical={false} stroke="#f3f3f3" strokeWidth={0.5} />
        <CartesianGrid horizontalValues={yTicks} stroke="#e8e8e8" strokeWidth={0.7} />
        <XAxis dataKey="cat" interval={0} hide={xMode === 'none'} height={xh} padding={{ left: pad, right: pad }} axisLine={false} tickSize={2} tickMargin={1} stroke="#555" tickFormatter={xMode === 'labels' ? undefined : () => ''} tick={{ fontSize, fill: '#4d4d4d' }} />
        <YAxis type="number" domain={yDomain} ticks={yTicks} interval={0} allowDataOverflow hide={!showY} width={yw} axisLine={false} tickSize={2} tickMargin={1} stroke="#555" tick={{ fontSize, fill: '#4d4d4d' }} />
        <Bar dataKey="value" isAnimationActive={false}>
          {data.map((_: any, i: number) => <Cell key={i} fill={colors[i]} />)}
        </Bar>
      </BarChart>
      <Frame x0={yw} y0={0} x1={x1 - x0 + yw} y1={y1 - y0} />
    </div>
  );
}

function heatColor(v: number | null) {
  if (v === null) return '#f1f1f1';
  if (v === 0) return '#7f7f7f';
  if (v < 19) {
    const t = Math.max((v - 12) / 7, 0);
    return `rgb(${Math.round(255 * t ** 0.7)},${Math.round(255 * t ** 0.87)},255)`;
  }
  const t = Math.min((v - 19) / 7, 1);
  return `rgb(255,${Math.round(255 * (1 - t) ** 0.7)},${Math.round(255 * (1 - t) ** 0.98)})`;
}

const heatColumns = [0, 1, 2, 3, 4, 5];
const heatTable = genes.map((gene) => ({ gene, c0: 1, c1: 1, c2: 1, c3: 1, c4: 1, c5: 1 }));

function HeatFacet({ rows, x0, labelStart, labelStep, showGenes }: any) {
  const yw = showGenes ? 30 : 0;
  const top = 69;
  const h = 286;
  return (
    <div style={{ position: 'absolute', left: x0 - yw, top }}>
      <BarChart layout="vertical" width={40 + yw} height={h + 14} data={heatTable} margin={{ top: 0, right: 0, bottom: 0, left: 0 }} barCategoryGap={0}>
        <XAxis type="number" domain={[0, 6]} ticks={[0.5, 1.5, 2.5, 3.5, 4.5, 5.5]} interval={0} height={14} axisLine={false} tickSize={1.5} stroke="#555"
          tick={(p: any) => (
            <text x={yw + labelStart + (p.payload.value - 0.5) * labelStep} y={h + 6.6} fontSize={10.5} fill="#222" textAnchor="middle" dominantBaseline="central">{p.payload.value + 0.5}</text>
          )} />
        <YAxis type="category" dataKey="gene" interval={0} hide={!showGenes} width={yw} axisLine={false} tickSize={1.5} tickMargin={0.5} stroke="#777" tick={{ fontSize: 4.4, fill: '#666' }} />
        {heatColumns.map((c) => (
          <Bar key={c} dataKey={`c${c}`} stackId="heat" stroke="#fff" strokeWidth={0.4} isAnimationActive={false}>
            {rows.map((row: any, i: number) => <Cell key={i} fill={heatColor(row[c])} />)}
          </Bar>
        ))}
      </BarChart>
    </div>
  );
}

function RadarFacet({ box, series }: any) {
  const [x0, y0, x1, y1] = box;
  const table = terms.map((term, i) => {
    const row: any = { term };
    series.forEach((s: any) => { row[s.name] = s.values[i]; });
    return row;
  });
  const cx = 74.5;
  const cy = 75.5;
  return (
    <div style={{ position: 'absolute', left: x0, top: y0, width: x1 - x0, height: y1 - y0, overflow: 'hidden' }}>
      <RadarChart width={x1 - x0} height={y1 - y0} cx={cx} cy={cy} outerRadius={66.5} startAngle={72} endAngle={-288} data={table} margin={{ top: 0, right: 0, bottom: 0, left: 0 }}>
        <PolarGrid gridType="circle" stroke="#e9e9e9" strokeWidth={0.7} />
        <PolarAngleAxis dataKey="term" tickLine={false} axisLine={false} tickSize={1}
          tick={(p: any) => (
            <text x={p.x} y={p.y} fontSize={6} fill="#555" textAnchor="middle" dominantBaseline="middle">{p.payload.value}</text>
          )} />
        <PolarRadiusAxis domain={[0, 1.085]} ticks={[0.25, 0.5, 0.75, 1, 1.085]} tick={false} axisLine={false} />
        {series.map((s: any) => (
          <Radar key={s.name} dataKey={s.name} stroke={s.color} fill={s.color} fillOpacity={0.2} strokeWidth={1.1} dot={false} isAnimationActive={false} />
        ))}
      </RadarChart>
      <Frame x0={0} y0={0} x1={x1 - x0} y1={y1 - y0} />
    </div>
  );
}

const toneColors: any = { c: '#4fdff2', b: '#4f78f5', v: '#9a58ee', m: '#e23fd4', p: '#ff2a9c' };
const toneRank = 'cbvmp';

function ClusterLines({ lines, tones, axisX, x1, x6, topZ, botZ, yDomain, yTicks }: any) {
  // z coordinates are the 3x crop of the E region
  const left = 385 + axisX / 3;
  const right = 385 + x6 / 3;
  const top = 395 + topZ / 3;
  const bottom = 395 + botZ / 3;
  const yw = 10;
  const xMin = 1 - (x1 - axisX) / ((x6 - x1) / 5);
  const data = clusterX.map((x, i) => {
    const row: any = { x };
    lines.forEach((l: number[], k: number) => { row[`l${k}`] = l[i]; });
    return row;
  });
  const order = lines.map((_: any, k: number) => k).sort((a: number, b: number) => toneRank.indexOf(tones[a]) - toneRank.indexOf(tones[b]));
  return (
    <div style={{ position: 'absolute', left: left - yw, top }}>
      <LineChart width={right - left + yw + 4} height={bottom - top + 16} data={data} margin={{ top: 0, right: 4, bottom: 0, left: 0 }}>
        <XAxis type="number" dataKey="x" domain={[xMin, 6]} ticks={clusterX} interval={0} allowDataOverflow height={16} axisLine={false} tickSize={2} tickMargin={2} stroke="#333" tick={{ fontSize: 8.2, fill: '#111' }} />
        <YAxis type="number" domain={yDomain} ticks={yTicks} interval={0} allowDataOverflow width={yw} axisLine={false} tickSize={1.5} tickMargin={0.5} stroke="#777" tick={{ fontSize: 2.6, fill: '#777' }} />
        <ReferenceLine segment={[{ x: 1, y: yDomain[0] }, { x: 6, y: yDomain[0] }]} stroke="#555" strokeWidth={0.6} ifOverflow="visible" />
        <ReferenceLine segment={[{ x: xMin, y: yTicks[0] }, { x: xMin, y: yTicks[yTicks.length - 1] }]} stroke="#777" strokeWidth={0.5} ifOverflow="visible" />
        {order.map((k: number) => (
          <Line key={k} dataKey={`l${k}`} type="linear" stroke={toneColors[tones[k]]} strokeWidth={0.75} dot={false} isAnimationActive={false} />
        ))}
      </LineChart>
    </div>
  );
}

function ClusterBox({ x0, y0, x1, y1, label, color }: any) {
  return (
    <div style={{ position: 'absolute', left: x0, top: y0, width: x1 - x0, height: y1 - y0, boxSizing: 'border-box', border: `1px solid ${color}`, background: '#fff', display: 'flex', alignItems: 'center', justifyContent: 'center', fontFamily: 'Lato, sans-serif', fontWeight: 700, fontSize: 11.5, color: '#111' }}>
      {label}
    </div>
  );
}

const aBox = [29, 73, 104, 211];
const bCols = [[201.7, 267.3], [270.3, 336.3]];
const bRows = [[33.3, 41.7, 132.3], [135.3, 144, 234]];
const cStrips = [432, 476.7, 521.3, 566, 610.7, 655.3];
const cLabelStart = [-0.3, 4, 1.2, 0, 0.4, 0.7];
const cLabelStep = [6.5, 5.7, 6.4, 6.35, 6.45, 6.45];
const cLabels = [['D1', 'CTRL'], ['D1', 'LOW'], ['D1', 'HIGH'], ['D3', 'CTRL'], ['D3', 'LOW'], ['D3', 'HIGH']];
const fCols = [[26, 87.3], [91.3, 152.3], [156.3, 217.7]];
const fRows = [[685, 696.7, 814], [818.3, 830, 948.3]];
const ring = (values: number[], name: string, color: string) => ({ values, name, color });

export default function App() {
  const legendA = groupNames;
  return (
    <div style={{ position: 'absolute', left: 0, top: 0, width: 741, height: 966, overflow: 'hidden', background: '#fff', fontFamily: SANS }}>
      <style>{'.recharts-surface{overflow:visible}'}</style>
      {/* panel letters */}
      <Txt x={1} y={8} size={15.5}>A</Txt>
      <Txt x={175} y={8} size={15.5}>B</Txt>
      <Txt x={382} y={8} size={15.5}>C</Txt>
      <Txt x={6} y={265} size={15.5}>D</Txt>
      <Txt x={381} y={381} size={15.5}>E</Txt>
      <Txt x={-1} y={656} size={15.5}>F</Txt>
      <Txt x={297} y={656} size={15.5}>G</Txt>

      {/* A */}
      <Txt x={69.5} y={62} size={11.2} anchor="middle" color="#222">BALF N=166</Txt>
      <Pca box={aBox} xDomain={[-90, 60]} yDomain={[-73, 69.7]} xTicks={[-50, 0, 50]} yTicks={[-40, 0, 40]} groups={[aCtrl, aFe, a51, a31, a13, aCo, aCb]} tickSize={6} r={1.3} frame="#a0a0a0" />
      <Txt x={66} y={228} size={9} anchor="middle" color="#222">PC1</Txt>
      <Txt x={5} y={140} size={9} anchor="middle" rotate={-90} color="#222">PC2</Txt>
      <Txt x={118.7} y={88} size={9.2} color="#222">Group</Txt>
      {legendA.map((g, i) => (
        <div key={g}>
          <div style={{ position: 'absolute', left: 124.5, top: 103 + i * 14.85, width: 2.6, height: 2.6, borderRadius: 2, background: groupColors[i] }} />
          <Txt x={137.7} y={104.3 + i * 14.85} size={8} color="#222">{g}</Txt>
        </div>
      ))}

      {/* B */}
      {[['DAY1 LOW', d1LowCounts, 0, 0], ['DAY1 HIGH', d1HighCounts, 1, 0], ['DAY3 LOW', d3LowCounts, 0, 1], ['DAY3 HIGH', d3HighCounts, 1, 1]].map(([label, values, c, r]: any) => (
        <div key={label}>
          <Strip x0={bCols[c][0]} x1={bCols[c][1]} y0={bRows[r][0]} y1={bRows[r][1]} label={label} size={4.3} border="#a6a6a6" />
          <BarFacet box={[bCols[c][0], bRows[r][1], bCols[c][1], bRows[r][2]]} values={values} colors={barColors} cats={barGroups} yDomain={[-7.4, 161]} yTicks={[0, 50, 100, 150]} showY={c === 0} xMode={r === 1 ? 'ticks' : 'none'} gap="6%" pad={1} fontSize={5.6} />
        </div>
      ))}
      <Txt x={182.7} y={140} size={5.4} weight={700} anchor="middle" rotate={-90} color="#333">#sig. proteins (FDR &lt; 0.05)</Txt>
      <Txt x={269} y={241.3} size={6.2} weight={700} anchor="middle" color="#333">Comparison vs CTRL</Txt>
      <Txt x={345} y={110.7} size={7} color="#222">Group</Txt>
      {barGroups.map((g, i) => (
        <div key={g}>
          <div style={{ position: 'absolute', left: 345, top: 117.3 + i * 8.67, width: 8.3, height: 8.67, background: barColors[i] }} />
          <Txt x={356.7} y={121.6 + i * 8.67} size={7} color="#222">{g}</Txt>
        </div>
      ))}

      {/* C */}
      <Txt x={432} y={28.3} size={10.6} color="#222">DAY1 HIGH common differentially expressed</Txt>
      {cStrips.map((x, i) => (
        <div key={i}>
          <div style={{ position: 'absolute', left: x, top: 39.3, width: 40, height: 29.7, background: '#d9d9d9' }} />
          <Txt x={x + 20} y={46.3} size={7.2} anchor="middle" color="#333">{cLabels[i][0]}</Txt>
          <Txt x={x + 20} y={61.3} size={7.2} anchor="middle" color="#333">{cLabels[i][1]}</Txt>
        </div>
      ))}
      <HeatFacet rows={heatD1Ctrl} x0={cStrips[0]} labelStart={cLabelStart[0]} labelStep={cLabelStep[0]} showGenes />
      <HeatFacet rows={heatD1Low} x0={cStrips[1]} labelStart={cLabelStart[1]} labelStep={cLabelStep[1]} />
      <HeatFacet rows={heatD1High} x0={cStrips[2]} labelStart={cLabelStart[2]} labelStep={cLabelStep[2]} />
      <HeatFacet rows={heatD3Ctrl} x0={cStrips[3]} labelStart={cLabelStart[3]} labelStep={cLabelStep[3]} />
      <HeatFacet rows={heatD3Low} x0={cStrips[4]} labelStart={cLabelStart[4]} labelStep={cLabelStep[4]} />
      <HeatFacet rows={heatD3High} x0={cStrips[5]} labelStart={cLabelStart[5]} labelStep={cLabelStep[5]} />
      <Txt x={397.3} y={212} size={8.5} anchor="middle" rotate={-90} color="#222">GENE</Txt>
      <Txt x={563.3} y={370.5} size={8.8} anchor="middle" color="#222">GROUP</Txt>
      <div style={{ position: 'absolute', left: 709.3, top: 176, width: 14, height: 72, background: `linear-gradient(to top, ${[11.6, 13, 14.5, 16, 17.5, 19, 20.5, 22, 23.5, 25, 26].map(heatColor).join(',')})` }} />
      {[24, 20, 16, 12].map((v) => <Txt key={v} x={724} y={187.7 + (24 - v) * 4.86} size={7} color="#222">{v}</Txt>)}
      <Txt x={700.7} y={264.3} size={7.5} color="#222">Group</Txt>
      {barGroups.map((g, i) => (
        <div key={g}>
          <Txt x={701} y={275.7 + i * 8.65} size={7} color="#222">{i + 1}</Txt>
          <Txt x={710.7} y={275.7 + i * 8.65} size={7} color="#222">{g}</Txt>
        </div>
      ))}

      {/* D */}
      <Txt x={36} y={287} size={9} spacing={-0.8} color="#222">GOBP</Txt>
      <Strip x0={36.7} x1={185.7} y0={296.7} y1={308.3} label="D1 LOW" size={5.6} />
      <Strip x0={190.3} x1={339.7} y0={296.7} y1={308.3} label="D1 HIGH" size={5.6} />
      <Strip x0={36.7} x1={185.7} y0={462.7} y1={474.3} label="D3 LOW" size={5.6} />
      <Strip x0={190.3} x1={339.7} y0={462.7} y1={474.3} label="D3 HIGH" size={5.6} />
      <RadarFacet box={[36.7, 308.3, 185.7, 458.3]} series={[ring(d1LowFe, 'Fe', C_FE), ring(d1Low51, '51', C_51), ring(d1Low31, '31', C_31), ring(d1Low13, '13', C_13), ring(d1LowCo, 'Co', C_CO)]} />
      <RadarFacet box={[190.3, 308.3, 339.7, 458.3]} series={[ring(d1HighFe, 'Fe', C_FE), ring(d1High51, '51', C_51), ring(d1High31, '31', C_31), ring(d1High13, '13', C_13), ring(d1HighCo, 'Co', C_CO), ring(d1HighCb, 'CB', C_CB)]} />
      <RadarFacet box={[36.7, 474.3, 185.7, 624.3]} series={[ring(d3LowFe, 'Fe', C_FE), ring(d3Low51, '51', C_51), ring(d3Low31, '31', C_31), ring(d3Low13, '13', C_13), ring(d3LowCo, 'Co', C_CO)]} />
      <RadarFacet box={[190.3, 474.3, 339.7, 624.3]} series={[ring(d3HighFe, 'Fe', C_FE), ring(d3High51, '51', C_51), ring(d3High31, '31', C_31), ring(d3High13, '13', C_13), ring(d3HighCo, 'Co', C_CO), ring(d3HighCb, 'CB', C_CB)]} />
      {[323.3, 489].map((top) => ['1.00', '0.75', '0.50', '0.25'].map((t, i) => (
        <div key={`${top}${t}`}>
          <Txt x={32.5} y={top + i * 15.35} size={5.6} anchor="end" color="#4d4d4d">{t}</Txt>
          <div style={{ position: 'absolute', left: 34, top: top + i * 15.35, width: 2.5, height: 0.6, background: '#555' }} />
        </div>
      )))}
      <Txt x={351} y={429} size={7.5} color="#222">GROUP</Txt>
      {barGroups.map((g, i) => (
        <div key={g}>
          <div style={{ position: 'absolute', left: 351.7, top: 436.8 + i * 11.75, width: 10.6, height: 10.6, boxSizing: 'border-box', border: `1.2px solid ${barColors[i]}`, background: `${barColors[i]}33` }} />
          <Txt x={366.7} y={442.3 + i * 11.75} size={6} color="#222">{g}</Txt>
        </div>
      ))}

      {/* E */}
      <Txt x={435} y={404.3} size={10.6} color="#222">DAY 1 HIGH</Txt>
      <ClusterBox x0={436} y0={416} x1={495.3} y1={438.3} label="Cluster 1" color="#e53935" />
      <ClusterBox x0={544} y0={416} x1={602.7} y1={438.3} label="Cluster 2" color="#e53935" />
      <ClusterBox x0={651.7} y0={417} x1={710.7} y1={437.5} label="Cluster 3" color="#f1f1f1" />
      <ClusterBox x0={436} y0={523.7} x1={495} y1={545.7} label="Cluster 4" color="#3f48cc" />
      <ClusterBox x0={544} y0={523.7} x1={602.7} y1={545.7} label="Cluster 5" color="#3f48cc" />
      <ClusterBox x0={651.7} y0={524} x1={710.7} y1={545} label="Cluster 6" color="#f1f1f1" />
      <Txt x={500.7} y={428.5} size={14.2} color="#ff2020">Fe</Txt>
      <Txt x={606.7} y={428.5} size={14.2} color="#ff2020">Fe</Txt>
      <Txt x={500.7} y={534.5} size={14.2} color="#2020ff">Co</Txt>
      <Txt x={606.7} y={534.5} size={14.2} color="#2020ff">Co</Txt>
      <ClusterLines lines={cluster1Lines} tones="cbvmppbcvmpb" axisX={112} x1={121} x6={358} topZ={100} botZ={335} yDomain={[-1.73, 1.78]} yTicks={[-1.5, -1, -0.5, 0, 0.5, 1, 1.5]} />
      <ClusterLines lines={cluster2Lines} tones="bcvmppmvbpcv" axisX={425} x1={445} x6={685} topZ={110} botZ={335} yDomain={[-2.18, 2.88]} yTicks={[-2, -1, 0, 1, 2]} />
      <ClusterLines lines={cluster3Lines} tones="ccbbvvmmppcb" axisX={752} x1={769} x6={1009} topZ={100} botZ={335} yDomain={[-2.59, 2.2]} yTicks={[-2, -1, 0, 1, 2]} />
      <ClusterLines lines={cluster4Lines} tones="cbbvvmmppcbc" axisX={112} x1={121} x6={358} topZ={440} botZ={660} yDomain={[-2.88, 2.72]} yTicks={[-2, -1, 0, 1, 2]} />
      <ClusterLines lines={cluster5Lines} tones="cbvmmppcbvbc" axisX={425} x1={445} x6={685} topZ={440} botZ={660} yDomain={[-1.85, 2.15]} yTicks={[-1, 0, 1, 2]} />
      <ClusterLines lines={cluster6Lines} tones="ccbvmmppvcbc" axisX={752} x1={769} x6={1009} topZ={440} botZ={660} yDomain={[-4.54, 1.41]} yTicks={[-4, -3, -2, -1, 0, 1]} />
      <Txt x={369} y={557.5} size={7} color="#222">Group</Txt>
      {['CTRL', 'Fe', 'Fe Co 5:1', 'Fe Co 3:1', 'Fe Co 1:3', 'Co'].map((g, i) => (
        <div key={g}>
          <Txt x={369} y={569 + i * 8.95} size={7} color="#222">{i + 1}</Txt>
          <Txt x={377} y={569 + i * 8.95} size={7} color="#222">{g}</Txt>
        </div>
      ))}

      {/* F */}
      <Txt x={25.7} y={659} size={11.2} color="#222">Discovery/Screening cluster overlap</Txt>
      <Txt x={25.7} y={674} size={11.2} color="#222">and best member</Txt>
      {[overlap1, overlap2, overlap3, overlap4, overlap5, overlap6].map((values, i) => {
        const c = i % 3;
        const r = i < 3 ? 0 : 1;
        return (
          <div key={i}>
            <Strip x0={fCols[c][0]} x1={fCols[c][1]} y0={fRows[r][0]} y1={fRows[r][1]} label={screeningClusters[i]} size={5.2} />
            <BarFacet box={[fCols[c][0], fRows[r][1], fCols[c][1], fRows[r][2]]} values={values} colors={screeningClusters.map(() => discoveryColors[i])} cats={screeningClusters} yDomain={[r === 0 ? -0.78 : -0.94, 18.8]} yTicks={[0, 5, 10, 15]} showY={c === 0} xMode={r === 1 ? 'labels' : 'none'} gap="11%" pad={1} fontSize={5.6} />
          </div>
        );
      })}
      <Txt x={67} y={690.7} size={12} color="#ff2020">Fe</Txt>
      <Txt x={130} y={690.7} size={12} color="#2020ff">Co</Txt>
      <Txt x={194} y={690.7} size={12} color="#ff2020">Fe</Txt>
      <Txt x={67.7} y={824} size={12} color="#2020ff">Co</Txt>
      <Txt x={56.7} y={725} size={10} anchor="middle" color="#222">Gpi</Txt>
      <Txt x={122.7} y={725} size={10} anchor="middle" color="#222">Scgb1a1</Txt>
      <Txt x={187.7} y={725} size={10} anchor="middle" color="#222">S100a9</Txt>
      <Txt x={58.3} y={865.3} size={10} anchor="middle" color="#222">Gsn</Txt>
      <Txt x={121.7} y={865.3} size={10} anchor="middle" color="#222">Cfh</Txt>
      <Txt x={186.3} y={865.3} size={10} anchor="middle" color="#222">Sod1</Txt>
      <Arrow x={31.7} y={705.7} filled={false} />
      <Arrow x={31.7} y={715} />
      <Arrow x={126.7} y={697.3} />
      <Arrow x={172} y={736.3} filled={false} />
      <Arrow x={172} y={744.7} />
      <Arrow x={161.7} y={764.3} filled={false} />
      <Arrow x={71.3} y={832.3} />
      <Arrow x={146.3} y={850.3} />
      <Arrow x={181.7} y={844.3} />
      <Txt x={10.7} y={821.7} size={6.6} anchor="middle" rotate={-90} color="#222">counts</Txt>
      <Txt x={9.3} y={962} size={6.95} color="#222">Screening(BALF 1=166) clusters split according to Discovery clusters</Txt>
      <Txt x={228.7} y={786} size={6.7} color="#222">Discovery cluster</Txt>
      {screeningClusters.map((c, i) => (
        <div key={c}>
          <div style={{ position: 'absolute', left: 229.3, top: 793 + i * 11.65, width: 10.7, height: 10.7, background: discoveryColors[i] }} />
          <Txt x={244} y={798.3 + i * 11.65} size={5.6} color="#222">{c}</Txt>
        </div>
      ))}

      {/* G */}
      <Txt x={430} y={659} size={11} color="#222">protein signatures</Txt>
      <Txt x={363.7} y={712} size={11} anchor="middle" color="#222">NP response</Txt>
      <Txt x={487} y={712} size={11} anchor="middle" color="#222">NETosis</Txt>
      <Txt x={608} y={712} size={11} anchor="middle" color="#222">NP response</Txt>
      <Txt x={611.7} y={728.7} size={11} anchor="middle" color="#222">best member</Txt>
      <Txt x={365.7} y={747.7} size={11} anchor="end" color="#222">signature proteins:</Txt>
      <Txt x={386} y={747.7} size={11} color="#222">91</Txt>
      <Txt x={510} y={747.7} size={11} color="#222">31</Txt>
      <Txt x={643} y={747.7} size={11} color="#222">6</Txt>
      <Arrow x={408} y={746.5} />
      <Arrow x={531} y={746.5} filled={false} />
      <Txt x={359} y={763} size={9.6} anchor="middle" color="#222">BALF n=166</Txt>
      <Txt x={489} y={763} size={9.6} anchor="middle" color="#222">BALF n=166</Txt>
      <Txt x={609.7} y={763} size={9.6} anchor="middle" color="#222">BALF n=166</Txt>
      <Pca box={[312, 769.3, 403.7, 928.3]} xDomain={[-9.53, 8.8]} yDomain={[-5.87, 11.4]} xTicks={[-5, 0, 5]} yTicks={[-5, 0, 5, 10]} groups={[g1Ctrl, g1Fe, g151, g131, g113, g1Co, g1Cb]} tickSize={7.5} />
      <Pca box={[445.3, 769.3, 529.3, 928.3]} xDomain={[-9.07, 6.58]} yDomain={[-5.57, 7.98]} xTicks={[-5, 0, 5]} yTicks={[-5, -2.5, 0, 2.5, 5, 7.5]} yFormat={(v: number) => minus(v).replace(/^(\u2212?\d+)$/, '$1.0')} groups={[g2Ctrl, g2Fe, g251, g231, g213, g2Co, g2Cb]} tickSize={7.5} />
      <Pca box={[562.3, 769.3, 654.3, 928.3]} xDomain={[-4.36, 6.68]} yDomain={[-2.36, 4.6]} xTicks={[-4, -2, 0, 2, 4, 6]} yTicks={[-2, 0, 2, 4]} groups={[g3Ctrl, g3Fe, g351, g331, g313, g3Co, g3Cb]} tickSize={7.5} />
      <Txt x={357.3} y={949.7} size={10.3} anchor="middle" color="#222">PC1</Txt>
      <Txt x={486.7} y={949.7} size={10.3} anchor="middle" color="#222">PC1</Txt>
      <Txt x={608} y={949.7} size={10.3} anchor="middle" color="#222">PC1</Txt>
      <Txt x={286.7} y={849} size={10.3} anchor="middle" rotate={-90} color="#222">PC2</Txt>
      <Txt x={413.3} y={849} size={10.3} anchor="middle" rotate={-90} color="#222">PC2</Txt>
      <Txt x={538.3} y={849} size={10.3} anchor="middle" rotate={-90} color="#222">PC2</Txt>
      <Txt x={666.7} y={789} size={10} color="#222">Group</Txt>
      {groupNames.map((g, i) => (
        <div key={g}>
          <div style={{ position: 'absolute', left: 672.7, top: 805.7 + i * 16.1, width: 2.6, height: 2.6, borderRadius: 2, background: groupColors[i] }} />
          <Txt x={687.7} y={807 + i * 16.1} size={8.6} color="#222">{g}</Txt>
        </div>
      ))}
    </div>
  );
}
